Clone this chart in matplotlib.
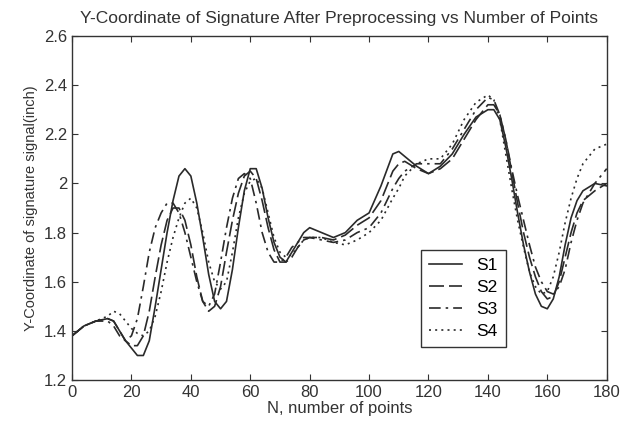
import matplotlib
matplotlib.use("Agg")
import matplotlib.pyplot as plt

# sample positions (number of points)
n_points = [0, 4, 8, 12, 14, 16, 18, 20, 22, 24, 26, 28, 30, 32, 34, 36, 38, 40,
            42, 44, 46, 48, 50, 52, 54, 56, 58, 60, 62, 64, 66, 68, 70, 72, 74,
            76, 78, 80, 84, 88, 92, 96, 100, 104, 108, 110, 112, 116, 120, 124,
            128, 132, 136, 140, 142, 144, 146, 148, 150, 152, 154, 156, 158, 160,
            162, 164, 166, 168, 170, 172, 176, 180]

s1 = [1.38, 1.42, 1.44, 1.45, 1.44, 1.40, 1.36, 1.33, 1.30, 1.30, 1.36, 1.50,
      1.65, 1.80, 1.93, 2.03, 2.06, 2.03, 1.92, 1.78, 1.63, 1.52, 1.49, 1.52,
      1.65, 1.82, 1.97, 2.06, 2.06, 1.98, 1.86, 1.76, 1.70, 1.68, 1.72, 1.76,
      1.80, 1.82, 1.80, 1.78, 1.80, 1.85, 1.88, 1.99, 2.12, 2.13, 2.11, 2.07,
      2.04, 2.07, 2.12, 2.20, 2.27, 2.30, 2.30, 2.26, 2.15, 2.02, 1.88, 1.75,
      1.64, 1.55, 1.50, 1.49, 1.53, 1.62, 1.75, 1.86, 1.93, 1.97, 2.00, 1.99]

s2 = [1.38, 1.42, 1.44, 1.45, 1.44, 1.40, 1.36, 1.34, 1.34, 1.38, 1.48, 1.62,
      1.75, 1.85, 1.90, 1.90, 1.85, 1.75, 1.62, 1.52, 1.48, 1.50, 1.58, 1.72,
      1.85, 1.96, 2.03, 2.05, 2.02, 1.93, 1.82, 1.73, 1.68, 1.68, 1.70, 1.74,
      1.77, 1.78, 1.78, 1.77, 1.79, 1.83, 1.86, 1.93, 2.05, 2.08, 2.09, 2.06,
      2.04, 2.06, 2.10, 2.18, 2.26, 2.32, 2.32, 2.28, 2.18, 2.05, 1.92, 1.80,
      1.70, 1.62, 1.56, 1.53, 1.54, 1.60, 1.70, 1.80, 1.88, 1.93, 1.97, 2.00]

s3 = [1.38, 1.42, 1.44, 1.44, 1.42, 1.38, 1.36, 1.38, 1.45, 1.58, 1.72, 1.82,
      1.88, 1.92, 1.92, 1.88, 1.80, 1.70, 1.60, 1.52, 1.50, 1.55, 1.68, 1.82,
      1.94, 2.02, 2.04, 2.02, 1.92, 1.80, 1.72, 1.68, 1.68, 1.70, 1.74, 1.76,
      1.78, 1.78, 1.77, 1.76, 1.77, 1.80, 1.82, 1.88, 1.98, 2.02, 2.05, 2.08,
      2.08, 2.08, 2.14, 2.22, 2.30, 2.35, 2.34, 2.28, 2.18, 2.06, 1.95, 1.85,
      1.75, 1.66, 1.60, 1.56, 1.55, 1.58, 1.65, 1.76, 1.85, 1.92, 2.00, 2.06]

s4 = [1.38, 1.42, 1.44, 1.46, 1.48, 1.47, 1.44, 1.41, 1.39, 1.38, 1.40, 1.46,
      1.56, 1.68, 1.78, 1.86, 1.92, 1.94, 1.90, 1.80, 1.68, 1.60, 1.57, 1.60,
      1.72, 1.86, 1.96, 2.01, 2.02, 1.98, 1.88, 1.78, 1.72, 1.70, 1.71, 1.74,
      1.77, 1.78, 1.78, 1.76, 1.75, 1.77, 1.80, 1.85, 1.94, 1.98, 2.03, 2.08,
      2.10, 2.10, 2.16, 2.26, 2.33, 2.36, 2.34, 2.26, 2.12, 1.98, 1.85, 1.74,
      1.64, 1.58, 1.55, 1.56, 1.62, 1.72, 1.84, 1.94, 2.02, 2.08, 2.14, 2.16]

series_names = ["S1", "S2", "S3", "S4"]

plt.rcParams['font.family'] = ['Liberation Sans', 'DejaVu Sans']

fig = plt.figure(figsize=(6.21, 4.28), dpi=100)
ax = fig.add_axes([0.116, 0.112, 0.861, 0.804])

ink = "#2a2a2a"
styles = ["-", (0, (9, 3)), (0, (7, 3, 1.5, 3)), (0, (1.2, 2.5))]
for vals, name, ls in zip([s1, s2, s3, s4], series_names, styles):
    ax.plot(n_points, vals, color=ink, linestyle=ls, linewidth=1.2, label=name)

ax.set_xlim(0, 180)
ax.set_ylim(1.2, 2.6)
ax.set_xticks(range(0, 181, 20))
ax.set_yticks([1.2, 1.4, 1.6, 1.8, 2.0, 2.2, 2.4, 2.6])
ax.set_yticklabels(["1.2", "1.4", "1.6", "1.8", "2", "2.2", "2.4", "2.6"])
ax.tick_params(direction="in", top=True, right=True, length=4,
               labelsize=12, colors="#333333")
for sp in ax.spines.values():
    sp.set_color("#333333")
    sp.set_linewidth(1.0)

ax.set_title("Y-Coordinate of Signature After Preprocessing vs Number of Points",
             fontsize=12.5, color="#333333", pad=9)
ax.set_xlabel("N, number of points", fontsize=12, color="#333333", labelpad=1)
ax.set_ylabel("Y-Coordinate of signature signal(inch)", fontsize=10.5,
              color="#333333", labelpad=4)

leg = ax.legend(loc="lower left", bbox_to_anchor=(0.636, 0.07), fontsize=12.5,
                handlelength=1.9, labelspacing=0.38, borderpad=0.5,
                fancybox=False, framealpha=1)
leg.get_frame().set_edgecolor("#333333")
leg.get_frame().set_linewidth(1.0)

fig.savefig("out.png", dpi=100)
